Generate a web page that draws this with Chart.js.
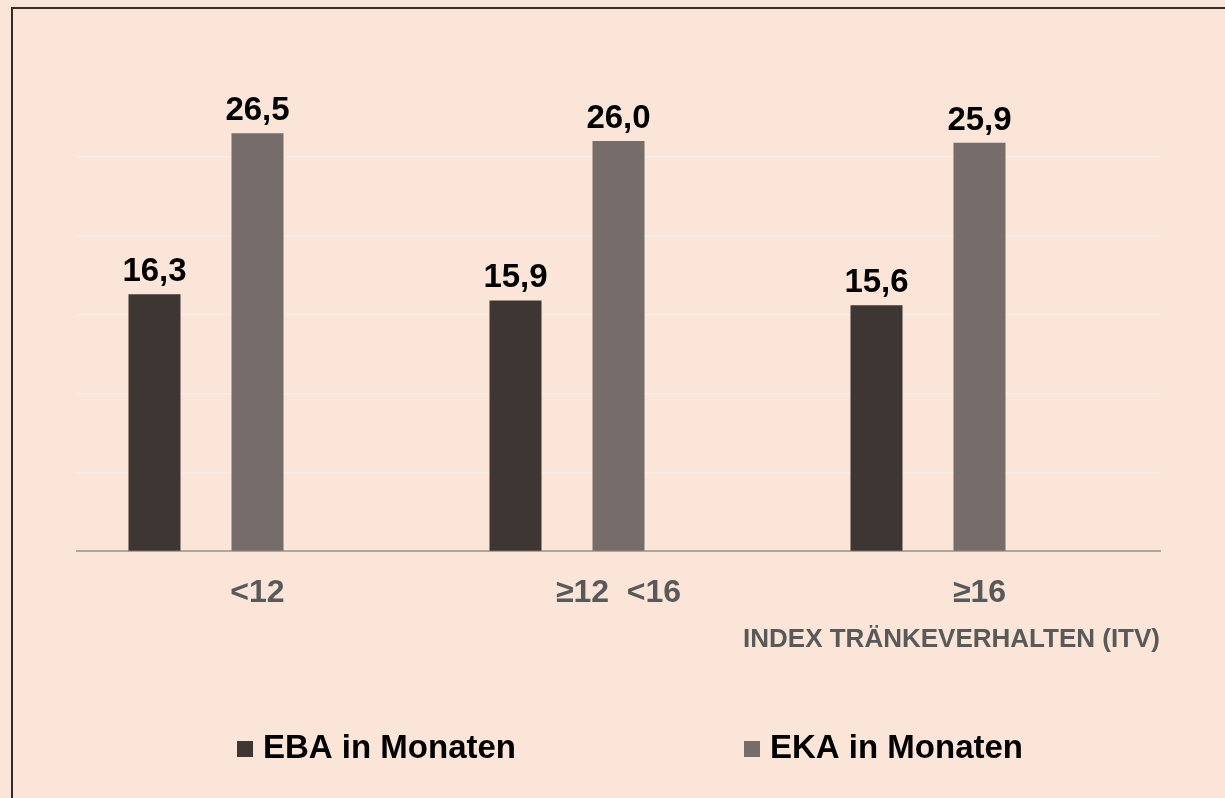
<!DOCTYPE html>
<html>
<head>
<meta charset="utf-8">
<script src="https://cdn.jsdelivr.net/npm/chart.js@4.4.1/dist/chart.umd.min.js"></script>
<style>
  html, body { margin: 0; padding: 0; background: #FAE5D8; overflow: hidden; }
  #frame { position: absolute; left: 11px; top: 7px; width: 1400px; height: 1000px; border: 2px solid #3a2c25; box-sizing: border-box; }
  #wrap { position: absolute; left: 0; top: 0; width: 1225px; height: 798px; }
</style>
</head>
<body>
<div id="frame"></div>
<div id="wrap"><canvas id="c" width="1225" height="798"></canvas></div>
<script>
// ---- data ----
const categories = ['<12', '≥12  <16', '≥16'];
const ebaValues = [16.3, 15.9, 15.6];
const ekaValues = [26.5, 26.0, 25.9];
const emptySlotValues = [null, null, null]; // empty third slot of each cluster
const seriesLabels = ['EBA in Monaten', 'EKA in Monaten'];
const axisTitle = 'INDEX TRÄNKEVERHALTEN (ITV)';

const FONT = '"Liberation Sans", Arial, sans-serif';
const colEBA = '#3d3633';
const colEKA = '#766d6a';

const valueLabels = {
  id: 'valueLabels',
  afterDatasetsDraw(chart) {
    const ctx = chart.ctx;
    ctx.save();
    ctx.font = 'bold 33px ' + FONT;
    ctx.fillStyle = '#000000';
    ctx.textAlign = 'center';
    ctx.textBaseline = 'alphabetic';
    [0, 1].forEach(di => {
      const meta = chart.getDatasetMeta(di);
      meta.data.forEach((bar, i) => {
        const v = chart.data.datasets[di].data[i];
        if (v == null) return;
        ctx.fillText(v.toFixed(1).replace('.', ','), bar.x, bar.y - 13);
      });
    });
    ctx.restore();
  }
};

const customLegend = {
  id: 'customLegend',
  afterDraw(chart) {
    const ctx = chart.ctx;
    ctx.save();
    ctx.font = 'bold 33px ' + FONT;
    ctx.textBaseline = 'alphabetic';
    ctx.textAlign = 'left';
    const box = 16, boxGap = 10, itemGap = 228;
    const items = [0, 1].map(di => {
      const ds = chart.data.datasets[di];
      return { text: ds.label, color: ds.backgroundColor, w: box + boxGap + ctx.measureText(ds.label).width };
    });
    const total = items.reduce((s, it) => s + it.w, 0) + itemGap * (items.length - 1);
    let x = 630 - total / 2;
    const baseY = 758;
    items.forEach(it => {
      ctx.fillStyle = it.color;
      ctx.fillRect(x, baseY - box - 1, box, box);
      ctx.fillStyle = '#000000';
      ctx.fillText(it.text, x + box + boxGap, baseY);
      x += it.w + itemGap;
    });
    ctx.restore();
  }
};

new Chart(document.getElementById('c'), {
  type: 'bar',
  data: {
    labels: categories,
    datasets: [
      { label: seriesLabels[0], data: ebaValues, backgroundColor: colEBA, categoryPercentage: 0.856, barPercentage: 0.505 },
      { label: seriesLabels[1], data: ekaValues, backgroundColor: colEKA, categoryPercentage: 0.856, barPercentage: 0.505 },
      { label: '', data: emptySlotValues, backgroundColor: 'rgba(0,0,0,0)', categoryPercentage: 0.856, barPercentage: 0.505 }
    ]
  },
  options: {
    responsive: false,
    animation: false,
    layout: { padding: { left: 77, right: 65, top: 78, bottom: 143 } },
    plugins: { legend: { display: false }, tooltip: { enabled: false } },
    scales: {
      x: {
        grid: { display: false, drawTicks: false },
        border: { display: true, color: '#aea7a1', width: 2 },
        ticks: { color: '#595959', font: { family: FONT, size: 32, weight: 'bold' }, padding: 23 },
        title: { display: true, text: axisTitle, align: 'end', color: '#595959', font: { family: FONT, size: 26, weight: 'bold' }, padding: { top: -12, bottom: 0 } }
      },
      y: {
        min: 0, max: 30,
        ticks: { display: false, stepSize: 5 },
        border: { display: false },
        grid: {
          drawTicks: false,
          lineWidth: 1.5,
          color: c => (c.tick && (c.tick.value === 30 || c.tick.value === 0)) ? 'rgba(0,0,0,0)' : '#f6ede8'
        }
      }
    }
  },
  plugins: [valueLabels, customLegend]
});
</script>
</body>
</html>
